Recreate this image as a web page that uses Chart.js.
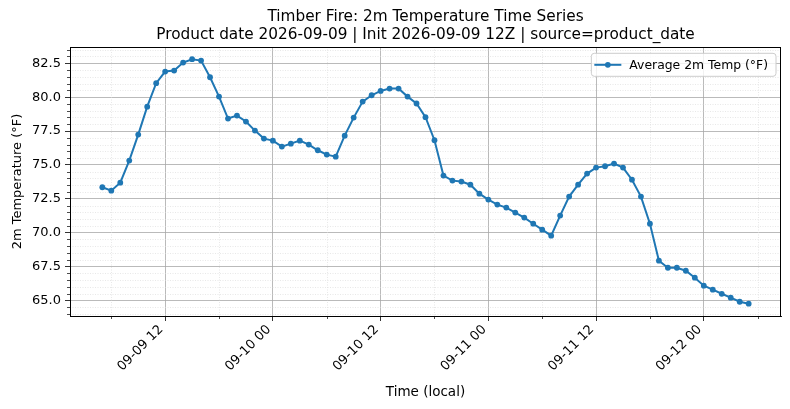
<!DOCTYPE html>
<html>
<head>
<meta charset="utf-8">
<script src="https://cdn.jsdelivr.net/npm/chart.js@4.4.0/dist/chart.umd.min.js"></script>
<style>
  html, body { margin: 0; padding: 0; background: #fff; }
  #wrap { width: 790px; height: 409px; }
</style>
</head>
<body>
<div id="wrap"><canvas id="tempChart"></canvas></div>
<script>
// hours since 2026-09-09 00:00 local
const hours = [5, 6, 7, 8, 9, 10, 11, 12, 13, 14, 15, 16, 17, 18, 19, 20, 21, 22, 23, 24,
  25, 26, 27, 28, 29, 30, 31, 32, 33, 34, 35, 36, 37, 38, 39, 40, 41, 42, 43, 44, 45, 46,
  47, 48, 49, 50, 51, 52, 53, 54, 55, 56, 57, 58, 59, 60, 61, 62, 63, 64, 65, 66, 67, 68,
  69, 70, 71, 72, 73, 74, 75, 76, 77];
const tempF = [73.35, 73.1, 73.69, 75.32, 77.24, 79.3, 81.03, 81.89, 81.96, 82.55, 82.8, 82.7,
  81.47, 80.04, 78.42, 78.64, 78.2, 77.53, 76.94, 76.79, 76.35, 76.57, 76.79, 76.5,
  76.08, 75.76, 75.61, 77.16, 78.49, 79.67, 80.14, 80.46, 80.63, 80.63, 80.04, 79.53,
  78.52, 76.82, 74.21, 73.84, 73.77, 73.54, 72.88, 72.44, 72.07, 71.85, 71.48, 71.11,
  70.66, 70.22, 69.78, 71.26, 72.66, 73.54, 74.36, 74.8, 74.9, 75.1, 74.8, 73.91,
  72.66, 70.66, 67.93, 67.41, 67.41, 67.19, 66.68, 66.09, 65.79, 65.49, 65.2, 64.9, 64.76];

const xTicks = [12, 24, 36, 48, 60, 72];
const xMinorTicks = [6, 18, 30, 42, 54, 66, 78];
const yTicks = [65, 67.5, 70, 72.5, 75, 77.5, 80, 82.5];
const titleLines = ['Timber Fire: 2m Temperature Time Series',
  'Product date 2026-09-09 | Init 2026-09-09 12Z | source=product_date'];
const seriesLabel = 'Average 2m Temp (°F)';

const FONT = 'DejaVu Sans';
const BLUE = '#1f77b4';

function hourLabel(h) {
  const day = 9 + Math.floor(h / 24);
  const hr = h % 24;
  return '09-' + String(day).padStart(2, '0') + ' ' + String(hr).padStart(2, '0');
}

// minor grid, minor ticks, full frame and legend box
const decorations = {
  id: 'decorations',
  beforeDatasetsDraw(chart) {
    const { ctx, chartArea: a, scales: { x, y } } = chart;
    ctx.save();
    ctx.strokeStyle = '#d8d8d8';
    ctx.lineWidth = 0.6;
    ctx.setLineDash([1, 1.5]);
    ctx.beginPath();
    xMinorTicks.forEach(h => {
      const px = Math.round(x.getPixelForValue(h)) + 0.5;
      ctx.moveTo(px, a.top); ctx.lineTo(px, a.bottom);
    });
    for (let v = 64; v <= 83.5; v += 0.5) {
      if (yTicks.includes(v)) continue;
      const py = Math.round(y.getPixelForValue(v)) + 0.5;
      ctx.moveTo(a.left, py); ctx.lineTo(a.right, py);
    }
    ctx.stroke();
    ctx.restore();
  },
  afterDraw(chart) {
    const { ctx, chartArea: a, scales: { x, y } } = chart;
    ctx.save();
    // minor tick marks
    ctx.strokeStyle = '#000';
    ctx.lineWidth = 0.7;
    ctx.beginPath();
    xMinorTicks.forEach(h => {
      const px = Math.round(x.getPixelForValue(h)) + 0.5;
      ctx.moveTo(px, a.bottom); ctx.lineTo(px, a.bottom + 3);
    });
    for (let v = 64; v <= 83.5; v += 0.5) {
      if (yTicks.includes(v)) continue;
      const py = Math.round(y.getPixelForValue(v)) + 0.5;
      ctx.moveTo(a.left, py); ctx.lineTo(a.left - 3, py);
    }
    ctx.stroke();
    // frame
    ctx.lineWidth = 1;
    ctx.strokeRect(Math.round(a.left) + 0.5, Math.round(a.top) + 0.5,
      Math.round(a.right - a.left) - 1, Math.round(a.bottom - a.top));
    // legend
    ctx.font = '12.4px "' + FONT + '"';
    const tw = ctx.measureText(seriesLabel).width;
    const w = 3 + 27 + 8 + tw + 8;
    const h = 23;
    const bx = a.right - 5 - w;
    const by = a.top + 6.3;
    ctx.beginPath();
    ctx.roundRect(bx, by, w, h, 3);
    ctx.fillStyle = 'rgba(255,255,255,0.8)';
    ctx.fill();
    ctx.strokeStyle = '#cccccc';
    ctx.lineWidth = 1;
    ctx.stroke();
    const cy = by + h / 2;
    ctx.strokeStyle = BLUE;
    ctx.lineWidth = 2;
    ctx.beginPath();
    ctx.moveTo(bx + 3, cy); ctx.lineTo(bx + 30, cy);
    ctx.stroke();
    ctx.fillStyle = BLUE;
    ctx.beginPath();
    ctx.arc(bx + 16.5, cy, 2.9, 0, Math.PI * 2);
    ctx.fill();
    ctx.fillStyle = '#000';
    ctx.textBaseline = 'middle';
    ctx.fillText(seriesLabel, bx + 38, cy + 0.5);
    ctx.restore();
  }
};

new Chart(document.getElementById('tempChart'), {
  type: 'line',
  data: {
    datasets: [{
      label: seriesLabel,
      data: hours.map((h, i) => ({ x: h, y: tempF[i] })),
      borderColor: BLUE,
      backgroundColor: BLUE,
      borderWidth: 2,
      pointRadius: 2.9,
      pointHoverRadius: 2.9,
      pointBorderWidth: 0,
      pointBackgroundColor: BLUE,
      tension: 0
    }]
  },
  options: {
    responsive: true,
    maintainAspectRatio: false,
    animation: false,
    layout: { padding: { left: 0, right: 9, top: 0, bottom: 0 } },
    plugins: {
      legend: { display: false },
      tooltip: { enabled: false },
      title: {
        display: true,
        text: titleLines,
        fullSize: false,
        color: '#000',
        font: { family: FONT, size: 15.3, weight: 'normal', lineHeight: 1.18 },
        padding: { top: 7.5, bottom: 3.4 }
      }
    },
    scales: {
      x: {
        type: 'linear',
        min: 1.4,
        max: 80.6,
        afterBuildTicks: s => { s.ticks = xTicks.map(v => ({ value: v })); },
        afterFit: s => { s.height = 93; },
        ticks: {
          autoSkip: false,
          maxRotation: 45,
          minRotation: 45,
          padding: 1,
          labelOffset: -4,
          color: '#000',
          font: { family: FONT, size: 13 },
          callback: v => hourLabel(v)
        },
        grid: { color: '#a8a8a8', lineWidth: 0.8, tickLength: 5, tickColor: '#000' },
        border: { display: true, color: '#000', width: 1 },
        title: {
          display: true,
          text: 'Time (local)',
          color: '#000',
          font: { family: FONT, size: 13.5 },
          padding: { top: 0, bottom: 8 }
        }
      },
      y: {
        type: 'linear',
        min: 63.85,
        max: 83.7,
        afterBuildTicks: s => { s.ticks = yTicks.map(v => ({ value: v })); },
        afterFit: s => { s.width = 70; },
        ticks: {
          padding: 4,
          color: '#000',
          font: { family: FONT, size: 13 },
          callback: v => v.toFixed(1)
        },
        grid: { color: '#a8a8a8', lineWidth: 0.8, tickLength: 5, tickColor: '#000' },
        border: { display: true, color: '#000', width: 1 },
        title: {
          display: true,
          text: '2m Temperature (°F)',
          color: '#000',
          font: { family: FONT, size: 13 },
          padding: { top: 10, bottom: 0 }
        }
      }
    }
  },
  plugins: [decorations]
});
</script>
</body>
</html>
